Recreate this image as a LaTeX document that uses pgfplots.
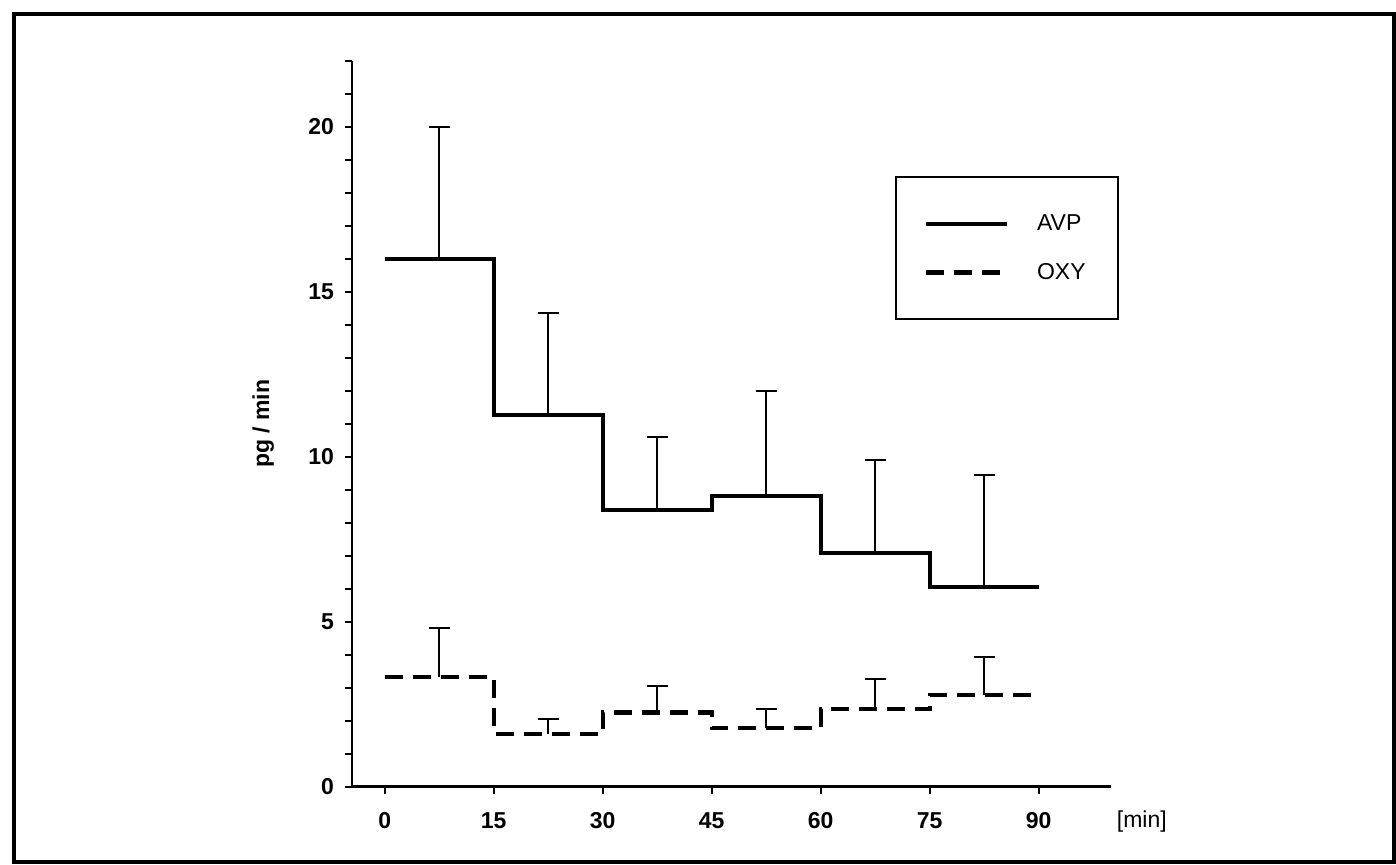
\documentclass[border=0pt]{standalone}
\usepackage{pgfplots}
\pgfplotsset{compat=1.18}
\usepackage{fontspec}
\setmainfont{Liberation Sans}
\begin{document}
\begin{tikzpicture}
\path[use as bounding box] (0pt,0pt) rectangle (698pt,432pt);
\draw[line width=1.8pt] (7pt,1pt) rectangle (697pt,425pt);
\begin{axis}[
  at={(176pt,38.65pt)}, anchor=south west,
  scale only axis, width=379.7pt, height=363pt,
  xmin=-4.5, xmax=100, ymin=0, ymax=22,
  axis x line=bottom, axis y line=left,
  axis line style={-, line width=1.3pt},
  tick align=outside,
  xtick={0,15,...,90}, ytick={0,5,...,20},
  minor ytick={1,2,...,22},
  major tick length=3.5pt, minor tick length=3.5pt,
  tick style={line width=1pt, black},
  /pgf/number format/assume math mode=true,
  ticklabel style={font=\bfseries\fontsize{11.5}{13}\selectfont},
  xticklabel style={yshift=-6pt},
  yticklabel style={xshift=-2pt},
  xlabel={[min]},
  xlabel style={at={(axis description cs:1.04,-0.048)}, anchor=center, font=\fontsize{11.5}{13}\selectfont},
  ylabel={pg / min},
  ylabel style={at={(axis description cs:-0.117,0.5)}, anchor=center, rotate=0, font=\bfseries\fontsize{11.5}{13}\selectfont},
  clip=false,
  legend image code/.code={\draw[#1] (0pt,0pt) -- (40.5pt,0pt);},
  legend cell align=left,
  legend style={at={(axis cs:70.2,18.5)}, anchor=north west, draw=black, line width=1pt,
    inner xsep=14pt, inner ysep=16.5pt, row sep=11pt,
    font=\fontsize{11.5}{13}\selectfont,
    /tikz/every odd column/.append style={column sep=12pt}},
]
\addplot[const plot, line width=2.1pt, black] coordinates {
 (0,16.0) (15,11.26) (30,8.38) (45,8.81) (60,7.09) (75,6.06) (90,6.06)};
\addlegendentry{AVP}
\addplot[const plot, line width=2.1pt, black, dash pattern=on 9pt off 5pt] coordinates {
 (0,3.33) (15,1.60) (30,2.25) (45,1.77) (60,2.35) (75,2.79) (90,2.79)};
\addlegendentry{OXY}
\addplot[forget plot, draw=none, mark=none,
  error bars/.cd, y dir=plus, y explicit,
  error bar style={line width=1pt, black},
  error mark options={rotate=90, mark size=5.2pt, line width=1pt, black}]
  coordinates {
 (7.5,16.0) +- (0,4.0)
 (22.5,11.26) +- (0,3.09)
 (37.5,8.38) +- (0,2.21)
 (52.5,8.81) +- (0,3.17)
 (67.5,7.09) +- (0,2.80)
 (82.5,6.06) +- (0,3.39)};
\addplot[forget plot, draw=none, mark=none,
  error bars/.cd, y dir=plus, y explicit,
  error bar style={line width=1pt, black},
  error mark options={rotate=90, mark size=5.2pt, line width=1pt, black}]
  coordinates {
 (7.5,3.33) +- (0,1.49)
 (22.5,1.60) +- (0,0.45)
 (37.5,2.25) +- (0,0.80)
 (52.5,1.77) +- (0,0.58)
 (67.5,2.35) +- (0,0.91)
 (82.5,2.79) +- (0,1.15)};
\end{axis}
\end{tikzpicture}
\end{document}
